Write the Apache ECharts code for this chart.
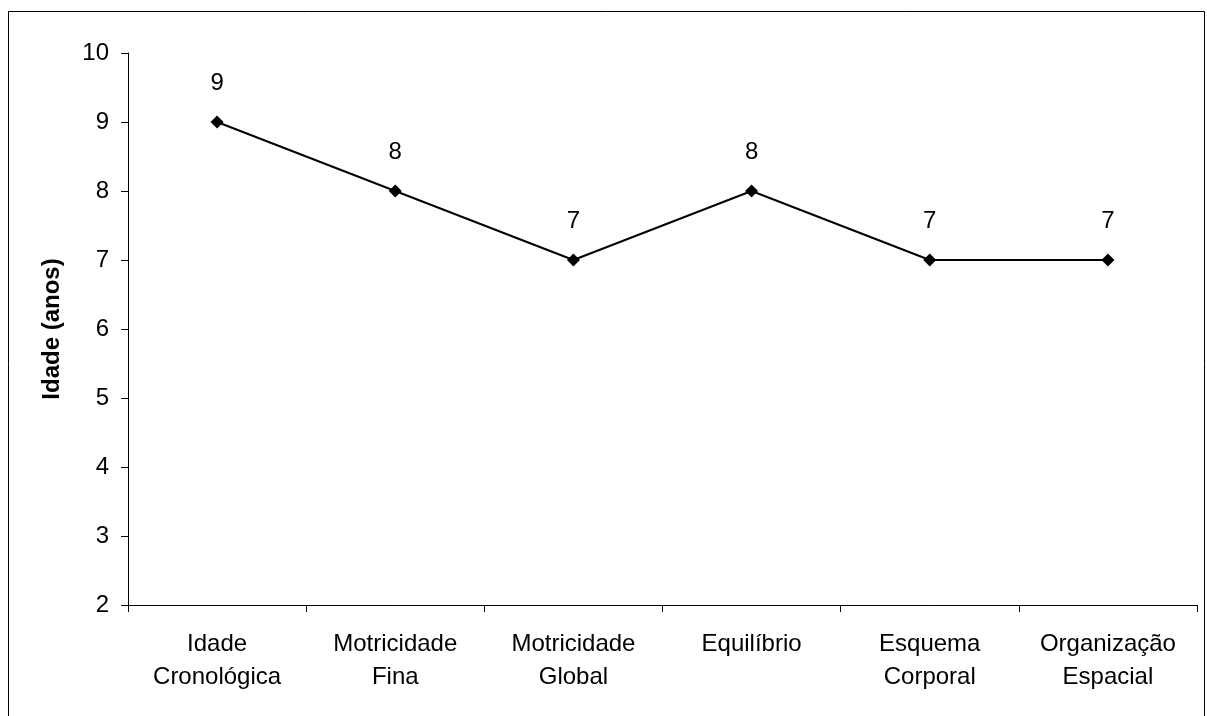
<!DOCTYPE html>
<html><head><meta charset="utf-8">
<script src="https://cdn.jsdelivr.net/npm/echarts@6/dist/echarts.min.js"></script>
<style>html,body{margin:0;padding:0;background:#fff}#c{width:1207px;height:716px}</style>
</head><body><div id="c"></div>
<script>
const categories = ['Idade\nCronológica','Motricidade\nFina','Motricidade\nGlobal','Equilíbrio','Esquema\nCorporal','Organização\nEspacial'];
const values = [9, 8, 7, 8, 7, 7];
const yTicks = [2, 3, 4, 5, 6, 7, 8, 9, 10];
const yTitle = 'Idade (anos)';

const chart = echarts.init(document.getElementById('c'), null, {renderer:'canvas'});
const font = 'Liberation Sans, Arial, sans-serif';
chart.setOption({
  animation: false,
  backgroundColor: '#fff',
  graphic: [{type:'rect', shape:{x:8.5,y:11.5,width:1196,height:720}, style:{fill:'none',stroke:'#000',lineWidth:1}, silent:true}],
  grid: {left:128, top:53, right:10, bottom:111, containLabel:false},
  xAxis: {
    type:'category', data:categories, boundaryGap:true,
    axisLine:{lineStyle:{color:'#000',width:1}},
    axisTick:{show:true, length:7, alignWithLabel:false, lineStyle:{color:'#000'}},
    axisLabel:{color:'#000', fontSize:24, fontFamily:font, lineHeight:33, margin:23, interval:0}
  },
  yAxis: {
    type:'value', min:yTicks[0], max:yTicks[yTicks.length-1], interval:1,
    name:yTitle, nameLocation:'middle', nameGap:64,
    nameTextStyle:{color:'#000', fontSize:24, fontWeight:'bold', fontFamily:font},
    axisLine:{show:true, lineStyle:{color:'#000',width:1}},
    axisTick:{show:true, length:7, lineStyle:{color:'#000'}},
    axisLabel:{color:'#000', fontSize:24, fontFamily:font, margin:19},
    splitLine:{show:false}
  },
  series: [{
    type:'line', data:values,
    symbol:'diamond', symbolSize:13,
    lineStyle:{color:'#000', width:2},
    itemStyle:{color:'#000'},
    label:{show:true, position:'top', distance:20, color:'#000', fontSize:24, fontFamily:font}
  }]
});
</script></body></html>
